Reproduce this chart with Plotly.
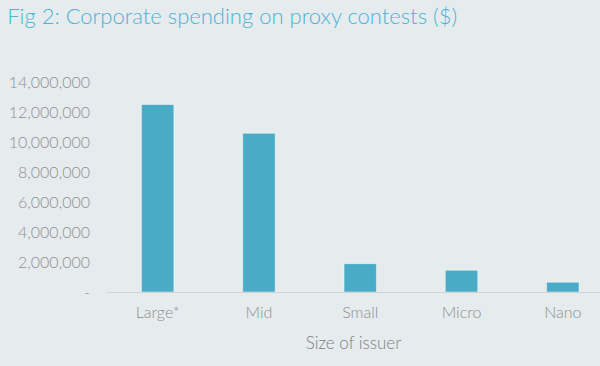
import plotly.graph_objects as go

categories = ["Large*", "Mid", "Small", "Micro", "Nano"]
spending = [12500000, 10580000, 1890000, 1450000, 650000]
tick_vals = [0, 2000000, 4000000, 6000000, 8000000, 10000000, 12000000, 14000000]
tick_text = ["-", "2,000,000", "4,000,000", "6,000,000", "8,000,000", "10,000,000", "12,000,000", "14,000,000"]

BG = "#E6EBEE"
FONT = "Lato"

fig = go.Figure(go.Bar(
    x=categories, y=spending,
    marker=dict(color="#4AABC6", line=dict(color="rgba(255,255,255,0.45)", width=1)),
    width=0.32,
))

fig.update_layout(
    width=600, height=366,
    paper_bgcolor=BG, plot_bgcolor=BG,
    margin=dict(l=107, r=0, t=70, b=74),
    font=dict(family=FONT, color="#8F8F8F", size=15, weight=300),
    title=dict(text="Fig 2: Corporate spending on proxy contests ($)",
               x=0.012, xanchor="left", y=0.956, yanchor="middle",
               font=dict(family=FONT, size=22, color="#4DB3D5", weight=300)),
    showlegend=False,
    xaxis=dict(range=[-0.5, 4.367], showgrid=False, showline=True, linecolor="#CFD3D6",
               linewidth=1, ticks="", ticklabelstandoff=6,
               tickfont=dict(size=16, color="#8F8F8F"),
               title=dict(text="Size of issuer", font=dict(size=17, color="#808080"), standoff=16)),
    yaxis=dict(range=[0, 14800000], tickvals=tick_vals, ticktext=tick_text,
               showgrid=False, zeroline=False, showline=False, ticks="",
               ticklabelstandoff=16, tickfont=dict(size=16, color="#8F8F8F")),
)

fig.write_html("out.html", config={"displayModeBar": False},
               post_script="document.body.style.margin='0';document.body.style.overflow='hidden';")
